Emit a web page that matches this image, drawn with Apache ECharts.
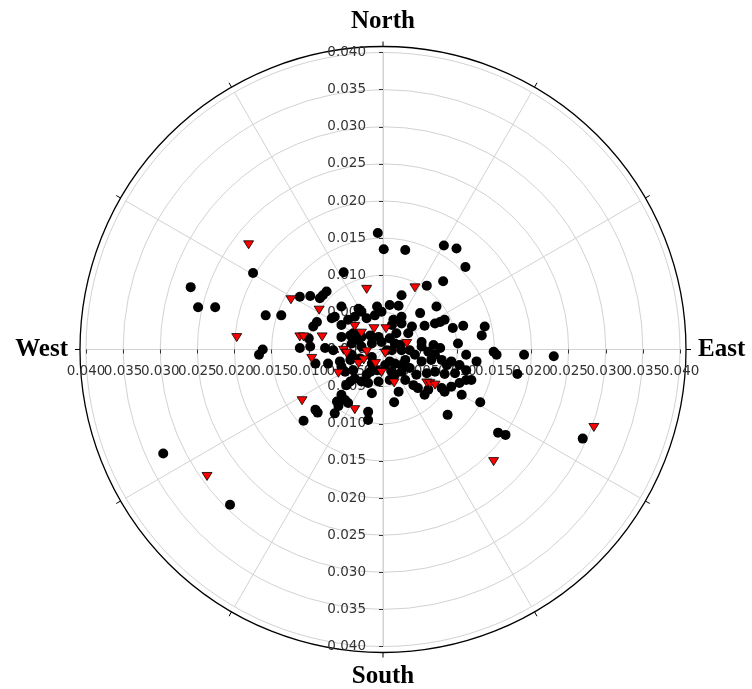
<!DOCTYPE html>
<html>
<head>
<meta charset="utf-8">
<script src="https://cdn.jsdelivr.net/npm/echarts@6/dist/echarts.min.js"></script>
<style>
html, body { margin: 0; padding: 0; background: #fff; }
#chart { width: 752px; height: 689px; }
</style>
</head>
<body>
<div id="chart"></div>
<script>
// east / north components of each point
var blackEast = [
  -0.0259, -0.0249, -0.0226, -0.0175, -0.0158, -0.0137, -0.0167, -0.0162, -0.0296, -0.0206,
  0.0269, 0.0155, 0.0165, 0.0190, 0.0230, 0.0181, 0.0149, 0.0153, 0.0131, 0.0087,
  0.0015, -0.0020, -0.0107, -0.0088, -0.0060, -0.0007, 0.0001, 0.0030, 0.0082, 0.0099,
  0.0111, 0.0081, 0.0059, -0.0053, -0.0076, -0.0081, -0.0085, -0.0112, 0.0025, -0.0098,
  -0.0033, -0.0038, -0.0029, -0.0008, -0.0011, -0.0002, -0.0065, -0.0069, -0.0089, -0.0094,
  -0.0056, -0.0056, -0.0044, -0.0033, -0.0042, -0.0029, -0.0017, -0.0006, -0.0015, -0.0002,
  0.0009, 0.0012, -0.0112, -0.0098, -0.0100, -0.0078, -0.0067, -0.0058, -0.0056, -0.0044,
  -0.0040, -0.0015, -0.0008, -0.0017, 0.0003, 0.0009, 0.0012, 0.0009, -0.0022, -0.0029,
  -0.0044, -0.0049, -0.0056, -0.0051, -0.0047, -0.0062, -0.0091, -0.0065, -0.0020, -0.0074,
  -0.0091, 0.0009, 0.0021, 0.0072, 0.0050, 0.0025, 0.0077, 0.0083, 0.0070, 0.0056,
  0.0039, 0.0034, 0.0094, 0.0108, 0.0137, 0.0133, 0.0018, 0.0012, 0.0101, 0.0068,
  0.0077, 0.0061, 0.0052, 0.0112, 0.0126, 0.0092, 0.0103, 0.0030, 0.0043, 0.0052,
  0.0065, 0.0079, 0.0086, 0.0016, 0.0025, 0.0036, 0.0045, 0.0059, 0.0070, 0.0083,
  0.0041, 0.0047, 0.0079, 0.0083, 0.0112, 0.0097, 0.0112, 0.0103, 0.0023, 0.0036,
  0.0016, 0.0030, 0.0056, -0.0056, -0.0047, -0.0022, 0.0014, 0.0025, 0.0016, -0.0029,
  -0.0040, 0.0070, 0.0119, 0.0092, 0.0061, 0.0025, -0.0006, -0.0020, -0.0038, -0.0051,
  -0.0042, -0.0031, -0.0015, 0.0005, 0.0025, 0.0052, -0.0015, 0.0021, 0.0106
];
var blackNorth = [
  0.0084, 0.0057, 0.0057, 0.0103, 0.0046, 0.0046, -0.0007, 0.0000, -0.0140, -0.0209,
  -0.0120, -0.0112, -0.0115, -0.0007, -0.0009, -0.0033, -0.0003, -0.0007, -0.0071, -0.0088,
  -0.0071, -0.0095, -0.0096, -0.0085, -0.0076, 0.0157, 0.0135, 0.0134, 0.0140, 0.0136,
  0.0111, 0.0092, 0.0086, 0.0104, 0.0078, 0.0073, 0.0069, 0.0071, 0.0073, 0.0072,
  0.0055, 0.0044, 0.0051, 0.0058, 0.0046, 0.0051, 0.0044, 0.0042, 0.0037, 0.0031,
  0.0033, 0.0017, 0.0019, 0.0013, 0.0008, 0.0004, 0.0019, 0.0017, 0.0008, 0.0010,
  0.0015, -0.0001, 0.0002, 0.0004, 0.0015, 0.0002, -0.0001, -0.0016, -0.0023, -0.0014,
  -0.0028, -0.0019, -0.0028, -0.0030, -0.0021, -0.0016, -0.0030, -0.0041, -0.0034, -0.0043,
  -0.0043, -0.0048, -0.0061, -0.0068, -0.0072, -0.0070, -0.0081, -0.0086, -0.0084, -0.0019,
  -0.0019, 0.0060, 0.0059, 0.0058, 0.0049, 0.0044, 0.0037, 0.0040, 0.0035, 0.0032,
  0.0031, 0.0022, 0.0029, 0.0032, 0.0031, 0.0019, 0.0022, 0.0033, 0.0008, 0.0006,
  0.0002, -0.0003, 0.0004, -0.0007, -0.0016, -0.0016, -0.0021, -0.0014, -0.0007, -0.0016,
  -0.0014, -0.0014, -0.0021, -0.0019, -0.0030, -0.0025, -0.0034, -0.0032, -0.0030, -0.0033,
  -0.0048, -0.0052, -0.0052, -0.0057, -0.0041, -0.0032, -0.0028, -0.0045, 0.0006, -0.0001,
  -0.0034, -0.0041, -0.0061, 0.0058, 0.0040, 0.0042, 0.0040, 0.0035, 0.0008, 0.0017,
  0.0022, -0.0007, -0.0041, -0.0050, -0.0054, -0.0021, -0.0043, -0.0045, -0.0039, -0.0030,
  -0.0007, -0.0012, -0.0010, -0.0001, -0.0001, 0.0010, -0.0059, -0.0057, -0.0061
];
var redEast = [
  -0.0357, -0.0181, -0.0124, -0.0197, 0.0284, 0.0149, -0.0237, -0.0109, -0.0038, -0.0022,
  0.0043, -0.0086, -0.0112, -0.0107, -0.0082, -0.0038, -0.0029, -0.0012, 0.0004, -0.0053,
  -0.0049, -0.0022, 0.0003, -0.0096, -0.0033, -0.0010, -0.0026, -0.0060, -0.0002, 0.0015,
  0.0032, 0.0059, 0.0063, 0.0070
];
var redNorth = [
  0.0197, 0.0141, 0.0067, 0.0016, -0.0105, -0.0151, -0.0171, -0.0069, -0.0081, 0.0081,
  0.0083, 0.0053, 0.0017, 0.0017, 0.0017, 0.0031, 0.0022, 0.0028, 0.0028, -0.0001,
  -0.0005, -0.0003, -0.0005, -0.0012, -0.0019, -0.0019, -0.0014, -0.0032, -0.0031, -0.0045,
  0.0008, -0.0045, -0.0046, -0.0048
];

var compassNames = ['North', 'East', 'South', 'West'];
var compassBearings = [0, 90, 180, 270];
var radiusMax = 0.04;
var radiusStep = 0.005;

// [radius, bearing] for the polar system (bearing clockwise from north)
function toPolar(east, north) {
  return east.map(function (e, i) {
    var n = north[i];
    var deg = Math.atan2(e, n) * 180 / Math.PI;
    if (deg < 0) deg += 360;
    return [Math.sqrt(e * e + n * n), deg];
  });
}

var myChart = echarts.init(document.getElementById('chart'));

var center = [383, 349.5];
var gridColor = '#d2d2d2';

// radius axes: N, E, W, S. labels always sit on the ccw side, so E and S use negative margins.
// E and W labels overlap, so they are split over two axes (even / odd steps)
// to stop echarts from dropping one of them.
var dirs = [
  { start: 90, margin: 17, tick: 4, align: 'right', valign: 'middle', parity: -1 },
  { start: 0, margin: -15, tick: -4, align: 'center', valign: 'top', parity: 0 },
  { start: 0, margin: -15, tick: -4, align: 'center', valign: 'top', parity: 1 },
  { start: 180, margin: 15, tick: 4, align: 'center', valign: 'top', parity: 0 },
  { start: 180, margin: 15, tick: 4, align: 'center', valign: 'top', parity: 1 },
  { start: 270, margin: -17, tick: -4, align: 'right', valign: 'middle', parity: -1 }
];

var polars = [];
var angleAxes = [];
var radiusAxes = [];

dirs.forEach(function (d, i) {
  polars.push({ center: center, radius: 297 });
  angleAxes.push({
    polarIndex: i,
    type: 'value',
    min: 0,
    max: 360,
    interval: 30,
    startAngle: d.start,
    clockwise: true,
    axisLine: { show: false },
    axisTick: { show: false },
    axisLabel: { show: false },
    splitLine: { show: i === 0, lineStyle: { color: gridColor, width: 1 } }
  });
  radiusAxes.push({
    polarIndex: i,
    type: 'value',
    min: 0,
    max: radiusMax,
    interval: radiusStep,
    axisLine: { show: d.parity !== 1, lineStyle: { color: gridColor } },
    axisTick: { show: d.parity !== 1, length: d.tick, lineStyle: { color: '#333' } },
    axisLabel: {
      margin: d.margin,
      align: d.align,
      verticalAlign: d.valign,
      hideOverlap: false,
      showMinLabel: true,
      showMaxLabel: true,
      color: '#333',
      fontFamily: 'DejaVu Sans',
      fontSize: 13.5,
      formatter: function (v) {
        if (d.parity >= 0 && Math.round(v / radiusStep) % 2 !== d.parity) return '';
        return v.toFixed(3);
      }
    },
    splitLine: { show: i === 0, lineStyle: { color: gridColor, width: 1 } }
  });
});

// outer black ring with compass labels
var ringIndex = polars.length;
polars.push({ center: center, radius: 303 });
angleAxes.push({
  polarIndex: ringIndex,
  type: 'value',
  min: 0,
  max: 360,
  interval: 30,
  startAngle: 90,
  clockwise: true,
  axisLine: { show: true, lineStyle: { color: '#000', width: 1.3 } },
  axisTick: { show: true, length: 5, lineStyle: { color: '#000' } },
  axisLabel: {
    margin: 12,
    color: '#000',
    fontFamily: 'Liberation Serif',
    fontWeight: 'bold',
    fontSize: 25,
    formatter: function (v) {
      var k = compassBearings.indexOf(v);
      return k < 0 ? '' : compassNames[k];
    }
  },
  splitLine: { show: false }
});
radiusAxes.push({ polarIndex: ringIndex, type: 'value', min: 0, max: 1, show: false });

var option = {
  backgroundColor: '#fff',
  animation: false,
  polar: polars,
  angleAxis: angleAxes,
  radiusAxis: radiusAxes,
  series: [
    {
      name: 'dots',
      type: 'scatter',
      coordinateSystem: 'polar',
      polarIndex: 0,
      symbol: 'circle',
      symbolSize: 10,
      itemStyle: { color: '#000', opacity: 1 },
      data: toPolar(blackEast, blackNorth),
      z: 3
    },
    {
      name: 'triangles',
      type: 'scatter',
      coordinateSystem: 'polar',
      polarIndex: 0,
      symbol: 'triangle',
      symbolRotate: 180,
      symbolSize: [10, 8],
      itemStyle: { color: '#ff0000', borderColor: '#000', borderWidth: 0.8, opacity: 1 },
      data: toPolar(redEast, redNorth),
      z: 4
    }
  ]
};

myChart.setOption(option);
</script>
</body>
</html>
